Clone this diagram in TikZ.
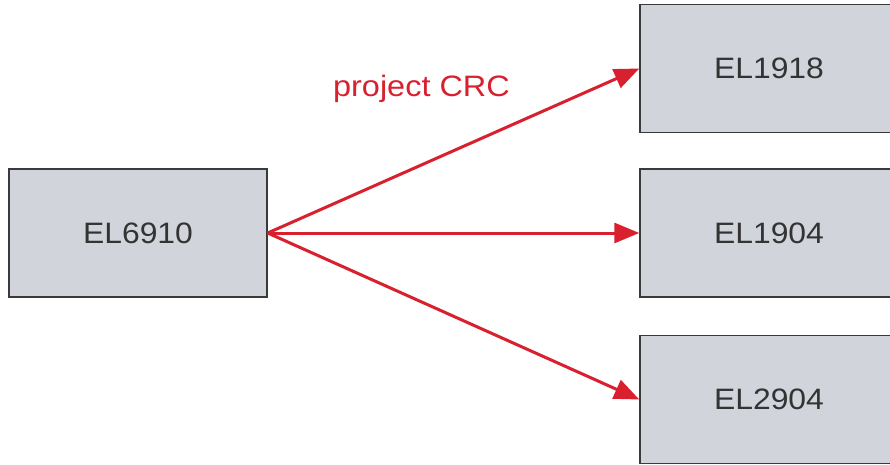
\documentclass[tikz,border=0pt]{standalone}
\usepackage{fontspec}
\setmainfont{Liberation Sans}
\usetikzlibrary{arrows.meta}
\definecolor{boxfill}{HTML}{D1D5DB}
\definecolor{boxline}{HTML}{3A3A3A}
\definecolor{txtgray}{HTML}{333333}
\definecolor{arrred}{HTML}{D8202E}
\begin{document}
\begin{tikzpicture}[x=1pt,y=1pt,
  devbox/.style={draw=boxline, line width=1.4pt, fill=boxfill, minimum width=258pt, minimum height=128pt, inner sep=0pt, text=txtgray, font=\fontsize{29.5}{34}\selectfont},
  redarrow/.style={draw=arrred, line width=3pt, -{Triangle[length=25pt,width=20pt]}}]
\useasboundingbox (0,0) rectangle (890,464);
\clip (0,0) rectangle (890,464);
\fill[white] (0,0) rectangle (890,464);
\node[devbox] (src) at (138,231) {\scalebox{1.08}[1]{EL6910}};
\node[devbox] (a) at (769,395.5) {\scalebox{1.08}[1]{EL1918}};
\node[devbox] (b) at (769,231) {\scalebox{1.08}[1]{EL1904}};
\node[devbox] (c) at (769,64.5) {\scalebox{1.08}[1]{EL2904}};
\draw[redarrow] (src.east) -- (a.west);
\draw[redarrow] (src.east) -- (b.west);
\draw[redarrow] (src.east) -- (c.west);
\node[anchor=base, text=arrred, font=\fontsize{29.5}{34}\selectfont, inner sep=0pt] (lbl) at (421.5,367) {\scalebox{1.1}[1]{project CRC}};
\end{tikzpicture}
\end{document}
